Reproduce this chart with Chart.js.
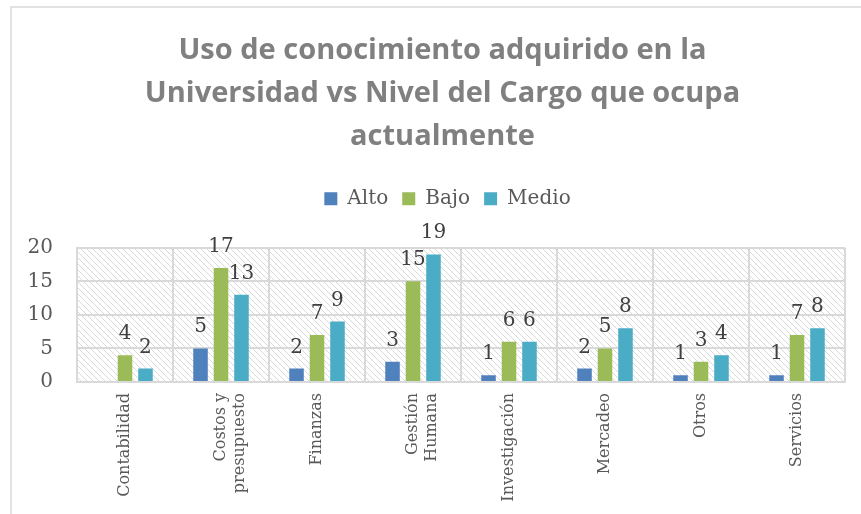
<!DOCTYPE html>
<html>
<head>
<meta charset="utf-8">
<script src="https://cdn.jsdelivr.net/npm/chart.js@4/dist/chart.umd.min.js"></script>
<style>
  html, body { margin: 0; padding: 0; background: #fff; }
  #wrap { width: 861px; height: 514px; position: relative; }
</style>
</head>
<body>
<div id="wrap"><canvas id="chart" width="861" height="514"></canvas></div>
<script>
// data
const categories = ["Contabilidad", ["Costos y", "presupuesto"], "Finanzas", ["Gestión", "Humana"],
                    "Investigación", "Mercadeo", "Otros", "Servicios"];
const alto  = [null, 5, 2, 3, 1, 2, 1, 1];
const bajo  = [4, 17, 7, 15, 6, 5, 3, 7];
const medio = [2, 13, 9, 19, 6, 8, 4, 8];
const yTicks = [0, 5, 10, 15, 20];

const serif = "'DejaVu Serif', serif";

// diagonal hatch for the plot background
function makeHatch() {
  const c = document.createElement("canvas");
  c.width = 6; c.height = 6;
  const g = c.getContext("2d");
  g.strokeStyle = "#d9d9d9";
  g.lineWidth = 1;
  g.beginPath();
  g.moveTo(-1, -1); g.lineTo(7, 7);
  g.moveTo(-1, 5); g.lineTo(1, 7);
  g.moveTo(5, -1); g.lineTo(7, 1);
  g.stroke();
  return c;
}

const framePlugin = {
  id: "frame",
  beforeDraw(chart) {
    const ctx = chart.ctx;
    const a = chart.chartArea;
    ctx.save();
    ctx.fillStyle = "#fff";
    ctx.fillRect(0, 0, chart.width, chart.height);
    ctx.strokeStyle = "#d9d9d9";
    ctx.lineWidth = 1.5;
    ctx.beginPath();
    ctx.moveTo(11, chart.height); ctx.lineTo(11, 7); ctx.lineTo(chart.width, 7);
    ctx.stroke();
    ctx.fillStyle = ctx.createPattern(makeHatch(), "repeat");
    ctx.fillRect(a.left, a.top, a.right - a.left, a.bottom - a.top);
    ctx.restore();
  }
};

// extra room under the legend, and shift title/legend to the frame's centre
const headerTweak = {
  id: "headerTweak",
  beforeInit(chart) {
    const fit = chart.legend.fit;
    chart.legend.fit = function () {
      fit.bind(chart.legend)();
      this.height += 29;
    };
  },
  afterLayout(chart) {
    chart.titleBlock.left += 20;
    chart.titleBlock.right += 20;
    chart.legend.left += 25;
    chart.legend.right += 25;
  }
};

const valueLabels = {
  id: "valueLabels",
  afterDatasetsDraw(chart) {
    const ctx = chart.ctx;
    ctx.save();
    ctx.font = "20px " + serif;
    ctx.fillStyle = "#404040";
    ctx.textAlign = "center";
    ctx.textBaseline = "alphabetic";
    chart.data.datasets.forEach((ds, i) => {
      chart.getDatasetMeta(i).data.forEach((bar, j) => {
        const v = ds.data[j];
        if (v === null || v === undefined) return;
        ctx.fillText(String(v), bar.x, bar.y - 16);
      });
    });
    ctx.restore();
  }
};

new Chart(document.getElementById("chart").getContext("2d"), {
  type: "bar",
  data: {
    labels: categories,
    datasets: [
      { label: "Alto", data: alto, backgroundColor: "#4f81bd" },
      { label: "Bajo", data: bajo, backgroundColor: "#9bbb59" },
      { label: "Medio", data: medio, backgroundColor: "#4bacc6" }
    ]
  },
  options: {
    responsive: false,
    animation: false,
    categoryPercentage: 0.64,
    barPercentage: 0.71,
    layout: { padding: { left: 0, right: 16, top: 0, bottom: 0 } },
    plugins: {
      tooltip: { enabled: false },
      title: {
        display: true,
        text: ["Uso de conocimiento adquirido en la",
               "Universidad vs Nivel del Cargo que ocupa",
               "actualmente"],
        color: "#808080",
        font: { family: "'Open Sans', Lato, sans-serif", size: 29, weight: "bold", lineHeight: 1.48 },
        padding: { top: 29, bottom: 17 }
      },
      legend: {
        position: "top",
        labels: {
          boxWidth: 13,
          boxHeight: 13,
          color: "#595959",
          font: { family: serif, size: 20 },
          padding: 14
        }
      }
    },
    scales: {
      x: {
        afterFit(scale) { scale.height = 132; },
        grid: { color: "#d9d9d9", lineWidth: 2, drawTicks: false, offset: true },
        border: { color: "#d9d9d9", width: 2 },
        ticks: {
          color: "#595959",
          font: { family: serif, size: 16 },
          minRotation: 90,
          maxRotation: 90,
          autoSkip: false,
          padding: 11
        }
      },
      y: {
        min: 0,
        max: 20,
        afterFit(scale) { scale.width = 77; },
        afterBuildTicks(scale) { scale.ticks = yTicks.map(v => ({ value: v })); },
        grid: { color: "#d9d9d9", lineWidth: 2, drawTicks: false },
        border: { color: "#d9d9d9", width: 2 },
        ticks: {
          color: "#595959",
          font: { family: serif, size: 20 },
          padding: 24
        }
      }
    }
  },
  plugins: [framePlugin, headerTweak, valueLabels]
});
</script>
</body>
</html>
